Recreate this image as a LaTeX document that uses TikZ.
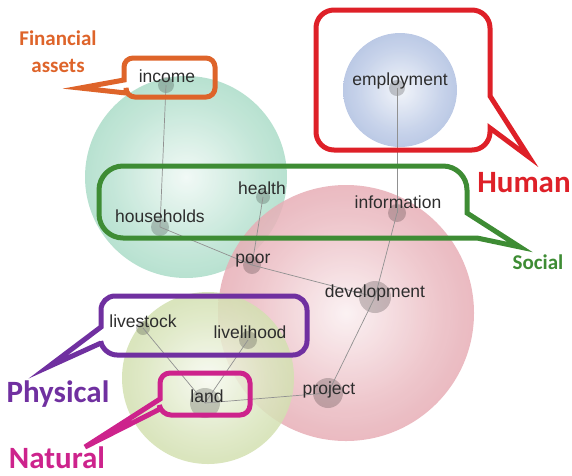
\documentclass[tikz,border=0pt]{standalone}
\usepackage{fontspec}
\setmainfont{Liberation Sans}
\newfontfamily\tagfont{Carlito}
\usetikzlibrary{positioning}

\definecolor{finorange}{RGB}{222,100,42}
\definecolor{humanred}{RGB}{222,32,40}
\definecolor{socialgreen}{RGB}{62,140,52}
\definecolor{physpurple}{RGB}{112,48,160}
\definecolor{natmagenta}{RGB}{205,35,140}
\definecolor{tealball}{RGB}{118,198,165}
\definecolor{blueball}{RGB}{125,152,206}
\definecolor{pinkball}{RGB}{215,122,135}
\definecolor{limeball}{RGB}{182,204,126}
\definecolor{wordgray}{RGB}{45,45,45}
\definecolor{linkgray}{RGB}{145,145,145}

% soft sphere: bright middle, coloured rim
\pgfdeclareradialshading[spherecol]{bubbleshade}{\pgfpoint{0bp}{0bp}}{%
  color(0bp)=(spherecol!12!white); color(18bp)=(spherecol!50!white);
  color(38bp)=(spherecol!82!white); color(50bp)=(spherecol)}

\tikzset{
  bubble/.style={shading=bubbleshade, fill opacity=0.85, /utils/exec={\colorlet{spherecol}{#1}}},
  dot/.style={circle, fill=black, fill opacity=0.2, inner sep=0pt, minimum size=#1},
  link/.style={draw=linkgray, line width=0.7pt},
  word/.style={text=wordgray, font=\fontsize{17.5}{20}\selectfont, anchor=base, inner sep=0pt},
  tag/.style={font=\tagfont\bfseries\fontsize{31}{34}\selectfont, anchor=base, inner sep=0pt},
  callout/.style={line width=5pt, line join=miter},
}

\begin{document}
\begin{tikzpicture}[x=1pt, y=-1pt]
		\useasboundingbox (0,0) rectangle (572,475);
		% spheres
		\shade[bubble=tealball] (186,177) circle[radius=101];
		\shade[bubble=blueball] (400,90) circle[radius=57];
		\shade[bubble=pinkball] (346,313) circle[radius=128];
		\shade[bubble=limeball] (208,378) circle[radius=86];
		
		% concept nodes
		\node[dot=16] (income) at (166,85) {};
		\node[dot=18] (households) at (160,227) {};
		\node[dot=14] (health) at (263,197) {};
		\node[dot=16] (employment) at (397,88) {};
		\node[dot=18] (information) at (397,213) {};
		\node[dot=18] (poor) at (252,265) {};
		\node[dot=32] (development) at (375,297) {};
		\node[dot=14] (livestock) at (143,328) {};
		\node[dot=18] (livelihood) at (248,340) {};
		\node[dot=30] (land) at (205,403) {};
		\node[dot=30] (project) at (328,393) {};
		
		% links
		\draw[link] (income.center) -- (households.center);
		\draw[link] (households.center) -- (poor.center);
		\draw[link] (health.center) -- (poor.center);
		\draw[link] (employment.center) -- (information.center);
		\draw[link] (information.center) -- (development.center);
		\draw[link] (poor.center) -- (development.center);
		\draw[link] (development.center) -- (project.center);
		\draw[link] (project.center) -- (land.center);
		\draw[link] (livestock.center) -- (land.center);
		\draw[link] (livelihood.center) -- (land.center);
		
		% words
		\node[word] (t-income) at (167,82) {income};
		\node[word] (t-households) at (160,222) {households};
		\node[word] (t-health) at (262,194) {health};
		\node[word] (t-employment) at (400,85) {employment};
		\node[word] (t-information) at (398,208) {information};
		\node[word] (t-poor) at (253,263) {poor};
		\node[word] (t-development) at (375,297) {development};
		\node[word] (t-livestock) at (143,327) {livestock};
		\node[word] (t-livelihood) at (250,338) {livelihood};
		\node[word] (t-land) at (207,402) {land};
		\node[word] (t-project) at (329,394) {project};
		
		% Financial assets
		\draw[callout, finorange] (80,88) -- (124,80) [rounded corners=9] -- (124,58) -- (215,58) -- (215,97) -- (126,97) [sharp corners] -- (126,93) -- cycle;
		\node[tag, finorange, font=\tagfont\bfseries\fontsize{21}{24}\selectfont] (financial) at (58,45) {Financial};
		\node[tag, finorange, font=\tagfont\bfseries\fontsize{21}{24}\selectfont] (assets) at (58,72) {assets};
		
		% Human
		\draw[callout, humanred] (529,157) -- (490,128) [rounded corners=18] -- (490,150) -- (316,150) -- (316,10) -- (490,10) [sharp corners] -- (490,96) -- cycle;
		\node[tag, humanred] (human) at (524,192) {Human};
		
		% Social
		\draw[callout, socialgreen] (520,247) -- (477,238) [rounded corners=24] -- (99,238) -- (99,166) -- (467,166) [sharp corners] -- (467,213) -- cycle;
		\node[tag, socialgreen, font=\tagfont\bfseries\fontsize{21}{24}\selectfont] (social) at (538,269) {Social};
		
		% Physical
		\draw[callout, physpurple] (48,367) -- (101,327) [rounded corners=14] -- (101,296) -- (307,296) -- (307,355) -- (103,355) [sharp corners] -- (101,343) -- cycle;
		\node[tag, physpurple] (physical) at (58,402) {Physical};
		
		% Natural
		\draw[callout, natmagenta] (85,447) -- (160,399) [rounded corners=10] -- (160,373) -- (250,373) -- (250,415) -- (161,415) [sharp corners] -- (160,409) -- cycle;
		\node[tag, natmagenta] (natural) at (57,468) {Natural};
		
	\end{tikzpicture}
\end{document}
